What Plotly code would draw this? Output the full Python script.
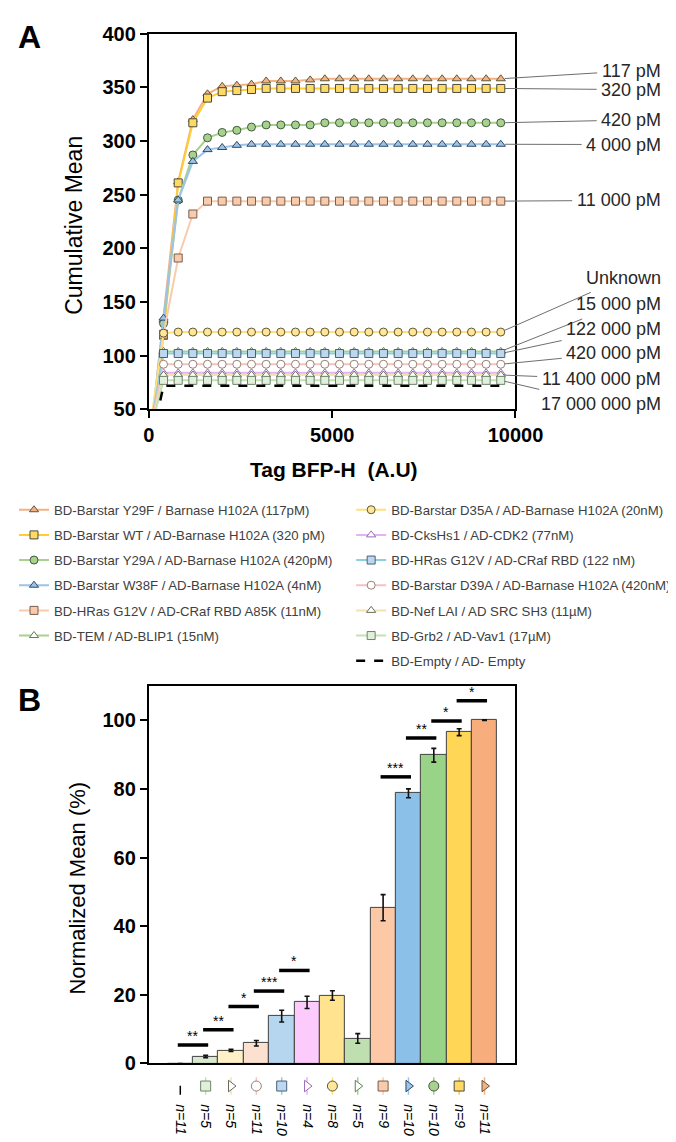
import plotly.graph_objects as go

FONT = "Liberation Sans, Arial, sans-serif"
WIDTH, HEIGHT = 676, 1142

# pixel frame shared by both panels
PLOT_L, PLOT_R = 142, 528
A_TOP, A_BOT = 15, 398
B_TOP, B_BOT = 680, 1065

# ---------------- panel A data ----------------
BFP_H = [0, 400, 800, 1200, 1600, 2000, 2400, 2800, 3200, 3600, 4000, 4400, 4800,
         5200, 5600, 6000, 6400, 6800, 7200, 7600, 8000, 8400, 8800, 9200, 9600]

Y29F_117PM = [10, 133, 262, 320, 344, 351, 352, 353, 356, 356, 356, 357, 358,
              358, 358, 358, 358, 358, 358, 358, 358, 358, 358, 358, 358]
WT_320PM = [5, 119, 261, 317, 340, 346, 347, 348, 349, 349, 349, 349, 349,
            349, 349, 349, 349, 349, 349, 349, 349, 349, 349, 349, 349]
Y29A_420PM = [10, 130, 245, 287, 303, 308, 310, 313, 315, 315, 315, 315, 317,
              317, 317, 317, 317, 317, 317, 317, 317, 317, 317, 317, 317]
W38F_4NM = [10, 135, 245, 281, 292, 294, 296, 297, 297, 297, 297, 297, 297,
            297, 297, 297, 297, 297, 297, 297, 297, 297, 297, 297, 297]
A85K_11NM = [16, 120, 191, 232, 244, 244, 244, 244, 244, 244, 244, 244, 244,
             244, 244, 244, 244, 244, 244, 244, 244, 244, 244, 244, 244]
TEM_15NM = [25, 104, 104, 104, 104, 104, 104, 104, 104, 104, 104, 104, 104,
            104, 104, 104, 104, 104, 104, 104, 104, 104, 104, 104, 104]
D35A_20NM = [25, 121, 122, 122, 122, 122, 122, 122, 122, 122, 122, 122, 122,
             122, 122, 122, 122, 122, 122, 122, 122, 122, 122, 122, 122]
CKS_77NM = [25, 84, 84, 84, 84, 84, 84, 84, 84, 84, 84, 84, 84,
            84, 84, 84, 84, 84, 84, 84, 84, 84, 84, 84, 84]
RBD_122NM = [25, 102, 102, 102, 102, 102, 102, 102, 102, 102, 102, 102, 102,
             102, 102, 102, 102, 102, 102, 102, 102, 102, 102, 102, 102]
D39A_420NM = [25, 92, 92, 92, 92, 92, 92, 92, 92, 92, 92, 92, 92,
              92, 92, 92, 92, 92, 92, 92, 92, 92, 92, 92, 92]
NEF_11UM = [25, 82, 82, 82, 82, 82, 82, 82, 82, 82, 82, 82, 82,
            82, 82, 82, 82, 82, 82, 82, 82, 82, 82, 82, 82]
GRB2_17UM = [25, 77, 77, 77, 77, 77, 77, 77, 77, 77, 77, 77, 77,
             77, 77, 77, 77, 77, 77, 77, 77, 77, 77, 77, 77]
EMPTY = [9, 72, 72, 72, 72, 72, 72, 72, 72, 72, 72, 72, 72,
         72, 72, 72, 72, 72, 72, 72, 72, 72, 72, 72, 72]

NAMES_LEFT = [
    "BD-Barstar Y29F / Barnase H102A (117pM)",
    "BD-Barstar WT / AD-Barnase H102A (320 pM)",
    "BD-Barstar Y29A / AD-Barnase H102A (420pM)",
    "BD-Barstar W38F / AD-Barnase H102A (4nM)",
    "BD-HRas G12V / AD-CRaf RBD A85K (11nM)",
    "BD-TEM / AD-BLIP1 (15nM)",
]
NAMES_RIGHT = [
    "BD-Barstar D35A / AD-Barnase H102A (20nM)",
    "BD-CksHs1 / AD-CDK2 (77nM)",
    "BD-HRas G12V / AD-CRaf RBD (122 nM)",
    "BD-Barstar D39A / AD-Barnase H102A (420nM)",
    "BD-Nef LAI / AD SRC SH3 (11µM)",
    "BD-Grb2 / AD-Vav1 (17µM)",
    "BD-Empty / AD- Empty",
]
SERIES_A = [Y29F_117PM, WT_320PM, Y29A_420PM, W38F_4NM, A85K_11NM, TEM_15NM,
            D35A_20NM, CKS_77NM, RBD_122NM, D39A_420NM, NEF_11UM, GRB2_17UM, EMPTY]
X_TICKS = [0, 5000, 10000]

# labels to the right of panel A, and which series each one points at
KD_LABELS = ["117 pM", "320 pM", "420 pM", "4 000 pM", "11 000 pM", "Unknown",
             "15 000 pM", "122 000 pM", "420 000 pM", "11 400 000 pM", "17 000 000 pM"]
KD_TARGETS = [0, 1, 2, 3, 4, 6, 5, 8, 9, 10, 11]

# ---------------- panel B data ----------------
BAR_ORDER = [12, 11, 10, 9, 8, 7, 6, 5, 4, 3, 2, 1, 0]  # index into SERIES_A names
NORM_MEAN = [0, 2.0, 3.8, 5.9, 13.8, 17.8, 19.8, 7.3, 45.4, 78.7, 89.8, 96.5, 100]
NORM_ERR = [0, 0.35, 0.3, 0.8, 1.7, 1.8, 1.4, 1.4, 3.8, 1.3, 2.0, 1.0, 0.1]
N_REPS = [11, 5, 5, 11, 10, 4, 8, 5, 9, 10, 10, 9, 11]
SIG_PAIRS = [(0, 1), (1, 2), (2, 3), (3, 4), (4, 5), (8, 9), (9, 10), (10, 11), (11, 12)]
SIG_HEIGHT = [5.4, 9.8, 16.6, 21.1, 27.1, 83.5, 94.8, 99.8, 105.7]
SIG_STARS = ["**", "**", "*", "***", "*", "***", "**", "*", "*"]

# style per interaction, same order as SERIES_A: line, symbol, fill, outline, bar fill
STYLE = [
    ("#F4B183", "triangle-up", "#F4B183", "#5E5A3A", "#F8AE7C"),
    ("#FFCC33", "square", "#FFD966", "#4A4A3A", "#FFD655"),
    ("#A9D18E", "circle", "#A9D18E", "#3F5A3F", "#98D387"),
    ("#9DC3E6", "triangle-up", "#9DC3E6", "#2F4A66", "#8BC1E8"),
    ("#F8CBAD", "square", "#F8CBAD", "#7A5A4A", "#FCC8A6"),
    ("#A9D18E", "triangle-up", "#FFFFFF", "#5E7E50", "#C0DFB0"),
    ("#FFE07A", "circle", "#FFE699", "#5E5630", "#FFE38F"),
    ("#E2B4F5", "triangle-up", "#FFFFFF", "#9A6AB8", "#FCCBFC"),
    ("#8CCFE0", "square", "#BDD7EE", "#46607A", "#B6D6EF"),
    ("#F4C2C2", "circle", "#FFFFFF", "#9A8070", "#FCE1D0"),
    ("#F2E2B0", "triangle-up", "#FFFFFF", "#6A6A5A", "#FFF1C6"),
    ("#C5E0B4", "square", "#E2EFDA", "#6A866A", "#D8EACD"),
    ("#000000", None, None, None, "#FFFFFF"),
]
NAMES_A = NAMES_LEFT + NAMES_RIGHT


def x_px(v):
    return PLOT_L + v / 10000 * (PLOT_R - PLOT_L)


def y_px(v):
    return A_TOP + (400 - v) / 350 * (A_BOT - A_TOP)


ARIAL_W = {" ": .278, "p": .556, "M": .833, "U": .722, "n": .556, "k": .5, "o": .556, "w": .722}


def text_w(s, size):
    return sum(ARIAL_W.get(c, .556) for c in s) * size


fig = go.Figure()

for i, (name, ys) in enumerate(zip(NAMES_A, SERIES_A)):
    line_c, sym, fill, edge, _ = STYLE[i]
    legend = "legend" if i < len(NAMES_LEFT) else "legend2"
    if sym is None:
        fig.add_trace(go.Scatter(
            x=BFP_H, y=ys, name=name, mode="lines", legend=legend, legendgroup=name,
            line=dict(color=line_c, width=2.5, dash="dash"),
        ))
        continue
    fig.add_trace(go.Scatter(
        x=BFP_H, y=ys, name=name, mode="lines+markers", legend=legend, legendgroup=name,
        line=dict(color=line_c, width=2),
        marker=dict(symbol=sym, size=8, color=fill, line=dict(color=edge, width=1)),
    ))

# ---- panel B bars ----
bar_names = [NAMES_A[k] for k in BAR_ORDER]
fig.add_trace(go.Bar(
    x=bar_names, y=NORM_MEAN, xaxis="x2", yaxis="y2", showlegend=False, width=1,
    marker=dict(color=[STYLE[k][4] for k in BAR_ORDER], line=dict(color="#404040", width=1)),
    error_y=dict(type="data", array=NORM_ERR, color="#111111", thickness=1.6, width=2.5),
))

# marker key under each bar: short vertical line + rotated legend symbol
for k, name in zip(BAR_ORDER, bar_names):
    line_c, sym, fill, edge, _ = STYLE[k]
    fig.add_trace(go.Scatter(
        x=[name, name], y=[-0.9, 0.9], xaxis="x2", yaxis="y3", mode="lines", showlegend=False,
        line=dict(color=line_c, width=1.5, dash="dash" if sym is None else "solid"),
    ))
    if sym is not None:
        fig.add_trace(go.Scatter(
            x=[name], y=[0], xaxis="x2", yaxis="y3", mode="markers", showlegend=False,
            marker=dict(symbol=sym.replace("-up", "-right"), size=10, color=fill,
                        line=dict(color=edge, width=1)),
        ))

shapes = []
annotations = []
for (a, b), h, stars in zip(SIG_PAIRS, SIG_HEIGHT, SIG_STARS):
    shapes.append(dict(type="line", xref="x2", yref="y2", x0=a - 0.1, x1=b + 0.1,
                       y0=h, y1=h, line=dict(color="black", width=3.5)))
    annotations.append(dict(xref="x2", yref="y2", x=(a + b) / 2, y=h, yanchor="bottom",
                            xanchor="center", text=stars, showarrow=False, yshift=-1,
                            font=dict(family=FONT, size=14, color="black")))

# Kd labels with leader lines
KD_Y = [53, 72, 103, 128, 185, 265, 292, 317, 341, 367, 392]
for label, tgt, ly in zip(KD_LABELS, KD_TARGETS, KD_Y):
    xv, yv = BFP_H[-1], SERIES_A[tgt][-1]
    cx = 673 - text_w(label, 18) / 2
    annotations.append(dict(
        x=xv, y=yv, xref="x", yref="y", text=label, showarrow=True, arrowhead=0,
        arrowwidth=1, arrowcolor="#6E6E6E", standoff=4, borderpad=4,
        ax=cx - x_px(xv), ay=ly - y_px(yv),
        font=dict(family=FONT, size=18, color="#262626"),
    ))

# panel letters and axis titles
annotations += [
    dict(xref="paper", yref="paper", x=2 / WIDTH, y=1 - 18 / HEIGHT, text="A", showarrow=False,
         xanchor="left", yanchor="middle", font=dict(family=FONT, size=32, color="black", weight="bold")),
    dict(xref="paper", yref="paper", x=2 / WIDTH, y=1 - 694 / HEIGHT, text="B", showarrow=False,
         xanchor="left", yanchor="middle", font=dict(family=FONT, size=32, color="black", weight="bold")),
    dict(xref="paper", yref="paper", x=63 / WIDTH, y=1 - 210 / HEIGHT, text="Cumulative Mean",
         showarrow=False, textangle=-90, xanchor="center", yanchor="middle",
         font=dict(family=FONT, size=23, color="black")),
    dict(xref="paper", yref="paper", x=337 / WIDTH, y=1 - 459 / HEIGHT, text="Tag BFP-H  (A.U)",
         showarrow=False, xanchor="center", yanchor="middle",
         font=dict(family=FONT, size=21, color="black", weight="bold")),
    dict(xref="paper", yref="paper", x=67 / WIDTH, y=1 - 886 / HEIGHT, text="Normalized Mean (%)",
         showarrow=False, textangle=-90, xanchor="center", yanchor="middle",
         font=dict(family=FONT, size=22, color="black")),
]

axis_common = dict(showgrid=False, zeroline=False, showline=True, linecolor="black", linewidth=2,
                   mirror=True, ticks="outside", ticklen=7, tickwidth=2, tickcolor="black",
                   tickfont=dict(family=FONT, size=20, color="black", weight="bold"))
x_dom = [PLOT_L / WIDTH, PLOT_R / WIDTH]
legend_font = dict(family=FONT, size=13.2, color="#404040")

fig.update_layout(
    width=WIDTH, height=HEIGHT, margin=dict(l=0, r=0, t=0, b=0),
    paper_bgcolor="white", plot_bgcolor="white",
    font=dict(family=FONT, color="#404040"),
    xaxis=dict(domain=x_dom, anchor="y", range=[0, 10000], tickvals=X_TICKS,
               ticktext=[str(v) for v in X_TICKS], **axis_common),
    yaxis=dict(domain=[1 - A_BOT / HEIGHT, 1 - A_TOP / HEIGHT], anchor="x", range=[50, 400],
               dtick=50, **axis_common),
    xaxis2=dict(domain=x_dom, anchor="y2", type="category", range=[-1.24, 13.22],
                tickvals=bar_names, ticktext=[f"n={n}" for n in N_REPS], tickangle=90,
                ticklabelstandoff=36, showgrid=False, zeroline=False, showline=True,
                linecolor="black", linewidth=2, mirror=True, ticks="",
                tickfont=dict(family=FONT, size=14, color="black", style="italic")),
    yaxis2=dict(domain=[1 - B_BOT / HEIGHT, 1 - B_TOP / HEIGHT], anchor="x2", range=[0, 110],
                tickvals=[0, 20, 40, 60, 80, 100], **axis_common),
    yaxis3=dict(domain=[1 - 1098 / HEIGHT, 1 - 1078 / HEIGHT], anchor="x2", range=[-1, 1],
                visible=False),
    legend=dict(x=0.0, y=1 - 485 / HEIGHT, xanchor="left", yanchor="top", bgcolor="rgba(0,0,0,0)",
                font=legend_font, tracegroupgap=5),
    legend2=dict(x=355 / WIDTH, y=1 - 485 / HEIGHT, xanchor="left", yanchor="top",
                 bgcolor="rgba(0,0,0,0)", font=legend_font, tracegroupgap=5),
    shapes=shapes, annotations=annotations, bargap=0,
)

fig.write_html("out.html")
